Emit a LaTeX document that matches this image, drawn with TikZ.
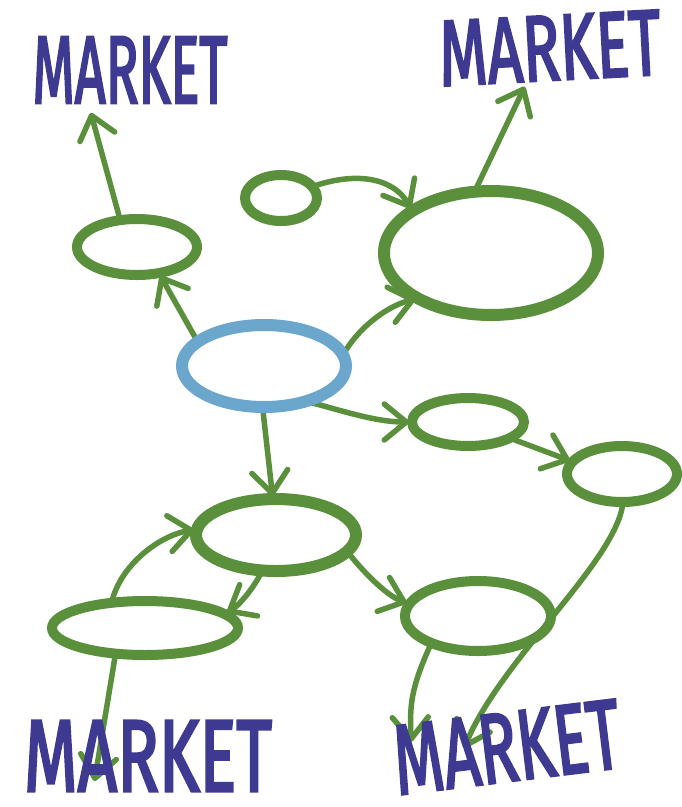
\documentclass[tikz,border=0pt]{standalone}
\usepackage{fontspec}
\setmainfont{Fira Sans}
\newfontfamily\mkfont{Fira Sans}[FakeBold=3]
\usetikzlibrary{shapes.geometric,arrows.meta}
\pgfdeclarelayer{bg}
\pgfsetlayers{bg,main}
\definecolor{gr}{HTML}{5A8F3C}
\definecolor{bl}{HTML}{6BA6CC}
\definecolor{mk}{HTML}{3F3A91}
\begin{document}
\begin{tikzpicture}[x=1pt,y=-1pt,
  bub/.style={ellipse,draw=gr,line width=10pt,inner sep=0pt,outer sep=0pt},
  conn/.style={draw=gr,line width=5.5pt,line cap=round,shorten >=3pt,
    -{Straight Barb[length=22pt,width=36pt,round]}},
  mkt/.style={inner sep=0pt,outer sep=0pt,text=mk,font=\mkfont}]
\begin{pgfonlayer}{bg}
\fill[white] (0,0) rectangle (682,807);
\end{pgfonlayer}
\useasboundingbox (0,0) rectangle (682,807);

% market labels
\node[mkt] (mTL) at (130,70) {\resizebox{195pt}{66pt}{MARKET}};
\node[mkt,rotate=3] (mTR) at (550,48) {\resizebox{222pt}{64pt}{MARKET}};
\node[mkt] (mBL) at (148,756) {\resizebox{248pt}{70pt}{MARKET}};
\node[mkt,rotate=7] (mBR) at (507,747) {\resizebox{228pt}{68pt}{MARKET}};

% bubbles
\node[bub,minimum width=120pt,minimum height=56pt] (A) at (137,247) {};
\node[bub,minimum width=72pt,minimum height=46pt] (B) at (281,198) {};
\node[bub,line width=12pt,minimum width=214pt,minimum height=124pt] (C) at (491,253) {};
\node[bub,draw=bl,line width=12pt,minimum width=164pt,minimum height=82pt] (D) at (264,366) {};
\node[bub,minimum width=112pt,minimum height=48pt] (E) at (468,422) {};
\node[bub,minimum width=110pt,minimum height=56pt] (F) at (622,474) {};
\node[bub,line width=12pt,minimum width=160pt,minimum height=72pt] (G) at (276,535) {};
\node[bub,minimum width=186pt,minimum height=54pt] (H) at (145,628) {};
\node[bub,minimum width=146pt,minimum height=70pt] (I) at (478,616) {};

% connectors (behind labels and bubbles)
\begin{pgfonlayer}{bg}
\draw[conn] (D.160) -- (A.-50);
\draw[conn] (A.122) -- ([xshift=-40pt,yshift=-40pt]mTL.center);
\draw[conn] (B.20) .. controls (360,170) and (395,180) .. (C.152);
\draw[conn] (C.105) -- ([xshift=-24pt,yshift=-36pt]mTR.center);
\draw[conn] (D.8) .. controls (360,325) and (390,305) .. (C.212);
\draw[conn] (D.-40) .. controls (340,410) and (375,422) .. (E.180);
\draw[conn] (E.-21) -- (F.166);
\draw[conn] (D.-92) -- (G.95);
\draw[conn] (H.143) .. controls (120,565) and (160,535) .. (G.176);
\draw[conn] (G.249) .. controls (250,595) and (235,608) .. (H.10);
\draw[conn] (G.-13) .. controls (360,568) and (385,595) .. (I.170);
\draw[conn] (H.221) -- ([xshift=-54pt,yshift=-28pt]mBL.center);
\draw[conn] (I.210) .. controls (410,690) and (410,705) .. ([xshift=-96pt,yshift=2pt]mBR.center);
\draw[conn] (F.-88) .. controls (618,560) and (500,660) .. ([xshift=-44pt,yshift=-4pt]mBR.center);
\end{pgfonlayer}
\end{tikzpicture}
\end{document}
